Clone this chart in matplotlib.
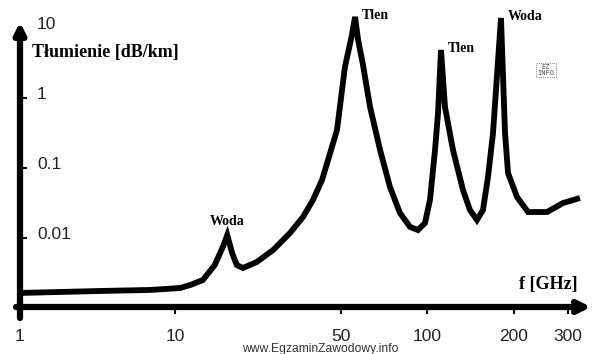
import numpy as np
import matplotlib.pyplot as plt

# attenuation vs frequency
freq = [1, 3.28, 6.9, 10.5, 11.6, 13.1, 14.7, 15.9, 16.6, 17.4, 18.2, 19.3,
        22.1, 25.9, 30.5, 34.6, 38.1, 41.6, 44.1, 48.1, 51.6, 54.6, 56.0,
        57.4, 59.7, 63.2, 68.5, 74.2, 80.4, 87.2, 93.0, 98.4, 102.4, 106.6,
        109.2, 111.8, 115.4, 123.0, 133.2, 140.8, 148.9, 156.2, 162.6, 169.2,
        180.3, 186.2, 190.7, 204.6, 222.2, 256.3, 289.0, 328.2]
atten = [0.00164, 0.00175, 0.00181, 0.00193, 0.00213, 0.00251, 0.00411, 0.00744, 0.0110, 0.00611, 0.00411, 0.00373,
         0.00454, 0.00674, 0.0118, 0.0200, 0.0349, 0.0674, 0.130, 0.349, 2.77, 7.94, 14.4,
         6.74, 2.96, 0.744, 0.181, 0.0535, 0.0228, 0.0144, 0.0130, 0.0164, 0.0349, 0.181,
         0.611, 4.85, 0.744, 0.181, 0.0485, 0.0251, 0.0181, 0.0251, 0.0744, 0.316,
         13.9, 0.316, 0.0848, 0.0385, 0.0235, 0.0235, 0.0316, 0.0373]

xtick_vals = [1, 10, 50, 100, 200, 300]
xtick_labels = ["1", "10", "50", "100", "200", "300"]
ytick_vals = [0.01, 0.1, 1]
ylabel_vals = [0.01, 0.1, 1, 10]
ylabel_text = ["0.01", "0.1", "1", "10"]

# annotated absorption lines: frequency, attenuation, name
peak_f = [16.6, 56.0, 111.8, 180.3]
peak_a = [0.0110, 14.4, 4.85, 13.9]
peak_name = ["Woda", "Tlen", "Tlen", "Woda"]

# the drawing's frequency axis is log-like but stretched piecewise
knot_log = np.log10([0.1, 1, 10, 50, 100, 200, 300, 1000])
knot_pos = [-135, 20, 175, 341, 427, 514, 568, 728]


def fwd(f):
    return np.interp(np.log10(np.clip(f, 1e-3, None)), knot_log, knot_pos)


def inv(p):
    return 10 ** np.interp(p, knot_pos, knot_log)


fig = plt.figure(figsize=(6, 3.54), dpi=100)
ax = fig.add_axes([20 / 600, 47 / 354, 575 / 600, 297 / 354])
ax.set_xscale("function", functions=(fwd, inv))
ax.set_yscale("log")
ax.set_xlim(1, inv(595))
ax.set_ylim(10 ** ((98 - 307) / 70), 10 ** ((98 - 10) / 70))

ax.plot(freq, atten, color="black", lw=4.2, solid_joinstyle="miter", solid_capstyle="butt")

for s in ax.spines.values():
    s.set_visible(False)

# axes drawn as thick arrows
ax.annotate("", xy=(571 / 575, 0), xytext=(-4 / 575, 0), xycoords="axes fraction",
            arrowprops=dict(arrowstyle="->", lw=4.5, color="black", mutation_scale=18,
                            shrinkA=0, shrinkB=0))
ax.annotate("", xy=(0, 285 / 297), xytext=(0, -11 / 297), xycoords="axes fraction",
            arrowprops=dict(arrowstyle="-|>", lw=4.5, color="black", mutation_scale=16,
                            shrinkA=0, shrinkB=0))

ax.set_xticks(xtick_vals)
ax.set_xticklabels(xtick_labels, fontsize=12.5, family="Liberation Sans", color="#222222")
ax.xaxis.set_minor_locator(plt.NullLocator())
ax.tick_params(axis="x", direction="out", length=5, width=1.5, pad=11)

ax.set_yticks(ytick_vals)
ax.set_yticklabels([])
ax.yaxis.set_minor_locator(plt.NullLocator())
ax.tick_params(axis="y", direction="in", length=5, width=1.5)

for v, t in zip(ylabel_vals, ylabel_text):
    ax.text(17 / 575, v * 1.12, t, transform=ax.get_yaxis_transform(), fontsize=12.5,
            family="Liberation Sans", color="#222222", ha="left", va="center")

serif_b = dict(family="Liberation Serif", weight="bold", color="black")
ax.text(12 / 575, 10 ** ((98 - 52) / 70), "Tłumienie [dB/km]", transform=ax.get_yaxis_transform(),
        fontsize=13, ha="left", va="center", **serif_b)
ax.text(558 / 575, 22 / 297, "f [GHz]", transform=ax.transAxes, fontsize=13,
        ha="right", va="center", **serif_b)

for f, a, name in zip(peak_f, peak_a, peak_name):
    if f < 20:
        ax.annotate(name, (f, a), xytext=(0, 9.5), textcoords="offset points",
                    ha="center", va="center", fontsize=10, **serif_b)
    else:
        ax.annotate(name, (f, a), xytext=(5, 1), textcoords="offset points",
                    ha="left", va="center", fontsize=10, **serif_b)

fig.text(320 / 600, 1 - 349 / 354, "www.EgzaminZawodowy.info", fontsize=8.7,
         family="Liberation Sans", color="#333333", ha="center", va="center")
fig.text(546 / 600, 1 - 70 / 354, "EZ\nINFO", fontsize=5, family="DejaVu Sans Mono",
         color="#555555", ha="center", va="center", linespacing=0.9,
         bbox=dict(boxstyle="square,pad=0.15", fc="white", ec="#555555", lw=0.6, ls=":"))

fig.savefig("out.png", dpi=100)
